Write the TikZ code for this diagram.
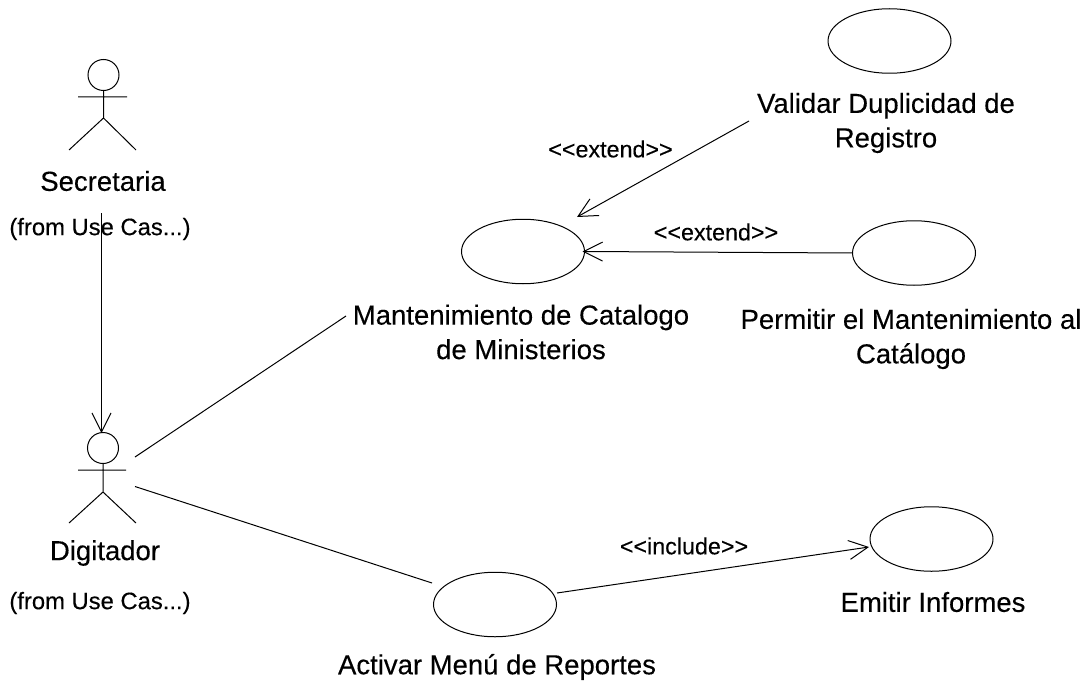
\documentclass[tikz,border=0pt]{standalone}
\usepackage{fontspec}
\setmainfont{Liberation Sans}[FakeBold=0.25]
\usetikzlibrary{shapes.geometric,arrows.meta}
\tikzset{
 uc/.style={draw,ellipse,line width=1pt,minimum width=123pt,minimum height=64.5pt,inner sep=0pt,outer sep=0pt},
 lbl/.style={align=center,font=\fontsize{27.5}{34.5}\selectfont,inner sep=0pt},
 small/.style={font=\fontsize{23.8}{28}\selectfont,inner sep=0pt},
 ster/.style={font=\fontsize{23.3}{28}\selectfont,inner sep=0pt},
 head/.style={draw,circle,line width=1pt,minimum size=31pt,inner sep=0pt,outer sep=0pt},
 conn/.style={line width=1pt},
 arr/.style={line width=1pt,-{Straight Barb[length=19pt,width=19pt,line width=1pt]}},
}
\begin{document}
\begin{tikzpicture}[x=1pt,y=-1pt,line width=1pt]
\useasboundingbox (0,0) rectangle (1086,682);
% use cases
\node[uc] (val) at (889.5,41) {};
\node[uc] (man) at (523,251.5) {};
\node[uc] (per) at (914,253) {};
\node[uc] (emi) at (931.5,539) {};
\node[uc] (act) at (495,604.5) {};
% labels
\node[lbl] (valt) at (886,123) {Validar Duplicidad de\\Registro};
\node[lbl] (mant) at (521,332) {Mantenimiento de Catalogo\\de Ministerios};
\node[lbl] (pert) at (911,339) {Permitir el Mantenimiento al\\Catálogo};
\node[lbl] (emit) at (933,602) {Emitir Informes};
\node[lbl] (actt) at (497,667) {Activar Menú de Reportes};
% actor 1
\node[head] (h1) at (103.5,75) {};
\coordinate (a1w) at (103.5,118);
\coordinate (a1l) at (78,97);\coordinate (a1r) at (127,97);
\coordinate (a1fl) at (69,150);\coordinate (a1fr) at (136,150);
\draw[conn] (h1) -- (a1w) (a1l) -- (a1r) (a1fl) -- (a1w) -- (a1fr);
\node[lbl] (sec) at (103,181) {Secretaria};
\node[small] (from1) at (100,229) {(from Use Cas...)};
% actor 2
\node[head] (h2) at (103,448) {};
\coordinate (a2w) at (103,492);
\coordinate (a2l) at (78,470);\coordinate (a2r) at (126,470);
\coordinate (a2fl) at (69,523);\coordinate (a2fr) at (136,523);
\draw[conn] (h2) -- (a2w) (a2l) -- (a2r) (a2fl) -- (a2w) -- (a2fr);
\node[lbl] (dig) at (105,553) {Digitador};
\node[small] (from2) at (100,603) {(from Use Cas...)};
% connectors
\coordinate (s) at (101.5,213);
\coordinate (st) at (101.5,433);
\draw[arr] (s) -- (st);
\coordinate (d1) at (135,457);
\coordinate (m1) at (346,316);
\draw[conn] (d1) -- (m1);
\coordinate (d2) at (135,486.5);
\coordinate (ac1) at (432,583);
\draw[conn] (d2) -- (ac1);
\coordinate (ae) at (557,593);
\coordinate (et) at (869,547);
\draw[arr] (ae) -- (et);
\coordinate (v1) at (749,121);
\coordinate (vt) at (577,217);
\draw[arr] (v1) -- (vt);
\draw[arr,shorten >=-2pt] (per.west) -- (man.east);
% stereotypes
\node[ster] (e1) at (610.5,149) {<{}<extend>{}>};
\node[ster] (e2) at (716,232) {<{}<extend>{}>};
\node[ster] (i1) at (684,546) {<{}<include>{}>};
\end{tikzpicture}
\end{document}
